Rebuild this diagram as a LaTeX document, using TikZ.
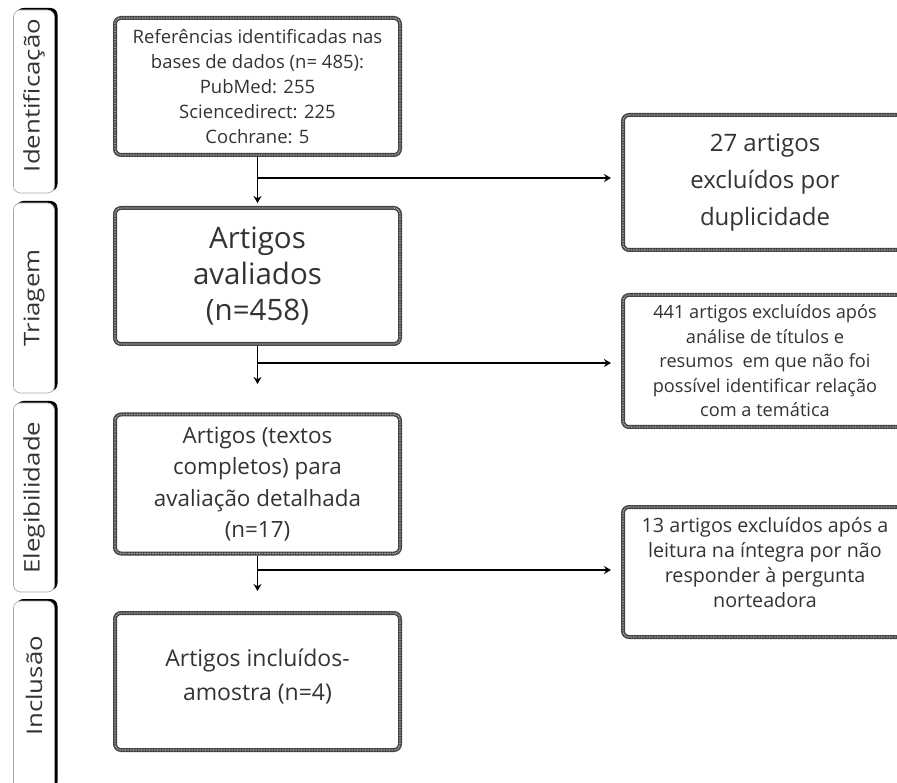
\documentclass[tikz,border=0pt]{standalone}
\usepackage{fontspec}
\setmainfont{Open Sans}
\usetikzlibrary{arrows.meta,positioning,shadows}
\definecolor{ink}{HTML}{333333}
\definecolor{rope}{HTML}{454545}

\begin{document}
\begin{tikzpicture}[x=1pt,y=-1pt,
  ropebox/.style={draw=rope, line width=4pt, rounded corners=6pt, fill=white, text=ink,
    align=center, inner sep=2pt,
    postaction={draw=black!25, line width=1.2pt, dash pattern=on 0.7pt off 0.9pt}},
  stagetab/.style={draw=black!35, line width=0.6pt, rounded corners=7pt, fill=white, text=ink,
    minimum width=41pt, inner sep=0pt,
    general shadow={fill=black, shadow xshift=3pt, shadow yshift=2pt},
    font=\fontsize{21.5}{24}\selectfont},
  flow/.style={line width=1.8pt, -{Stealth[length=7pt,width=8pt]}}]
  \useasboundingbox (0,0) rectangle (897,783);
  \clip (0,0) rectangle (897,783);

  % stages
  \node[stagetab, minimum height=183pt] (idn) at (34,101.5) {\rotatebox{90}{\hspace*{12pt}\scalebox{1.2}[1]{Identificação}}};
  \node[stagetab, minimum height=190pt] (tri) at (34,298) {\rotatebox{90}{\scalebox{1.2}[1]{Triagem}}};
  \node[stagetab, minimum height=189pt] (ele) at (34,497.5) {\rotatebox{90}{\scalebox{1.2}[1]{Elegibilidade}}};
  \node[stagetab, minimum height=190pt] (inc) at (34,696) {\rotatebox{90}{\hspace*{20pt}\scalebox{1.2}[1]{Inclusão}}};

  % main column
  \node[ropebox, minimum width=285pt, minimum height=137pt, font=\fontsize{18.5}{25}\selectfont] (refs) at (257.5,86.5)
    {Referências identificadas nas\\bases de dados (n= 485):\\PubMed: 255\\Sciencedirect: 225\\Cochrane: 5};
  \node[ropebox, minimum width=285pt, minimum height=136pt, font=\fontsize{29.5}{36}\selectfont] (eval) at (257.5,276)
    {Artigos\\avaliados\\(n=458)};
  \node[ropebox, minimum width=285pt, minimum height=139pt, font=\fontsize{22.4}{31.5}\selectfont] (full) at (257.5,484)
    {Artigos (textos\\completos) para\\avaliação detalhada\\(n=17)};
  \node[ropebox, minimum width=285pt, minimum height=137pt, font=\fontsize{23}{34}\selectfont] (incl) at (257.5,681.5)
    {Artigos incluídos-\\amostra (n=4)\\[-21pt]\mbox{}};

  % exclusions
  \node[ropebox, minimum width=284pt, minimum height=135pt, font=\fontsize{24}{37}\selectfont] (dup) at (765,182.5)
    {27 artigos\\excluídos por\\duplicidade};
  \node[ropebox, minimum width=284pt, minimum height=132pt, font=\fontsize{18.2}{24.5}\selectfont] (tit) at (765,361)
    {441 artigos excluídos após\\análise de títulos e\\resumos\ \ em que não foi\\possível identificar relação\\com a temática};
  \node[ropebox, minimum width=284pt, minimum height=130pt, font=\fontsize{19.7}{25}\selectfont] (int) at (765,572)
    {13 artigos excluídos após a\\leitura na íntegra por não\\responder à pergunta\\norteadora\\[-6pt]\mbox{}};

  % arrows
  \coordinate (e1) at (257.5,203); \coordinate (b1) at (257.5,178);
  \coordinate (e2) at (257.5,384); \coordinate (b2) at (257.5,363);
  \coordinate (e3) at (257.5,591); \coordinate (b3) at (257.5,570);
  \draw[flow] (refs) -- (e1);
  \draw[flow,shorten >=10pt] (b1) -- (b1 -| dup.west);
  \draw[flow] (eval) -- (e2);
  \draw[flow,shorten >=10pt] (b2) -- (b2 -| tit.west);
  \draw[flow] (full) -- (e3);
  \draw[flow,shorten >=10pt] (b3) -- (b3 -| int.west);
\end{tikzpicture}
\end{document}
